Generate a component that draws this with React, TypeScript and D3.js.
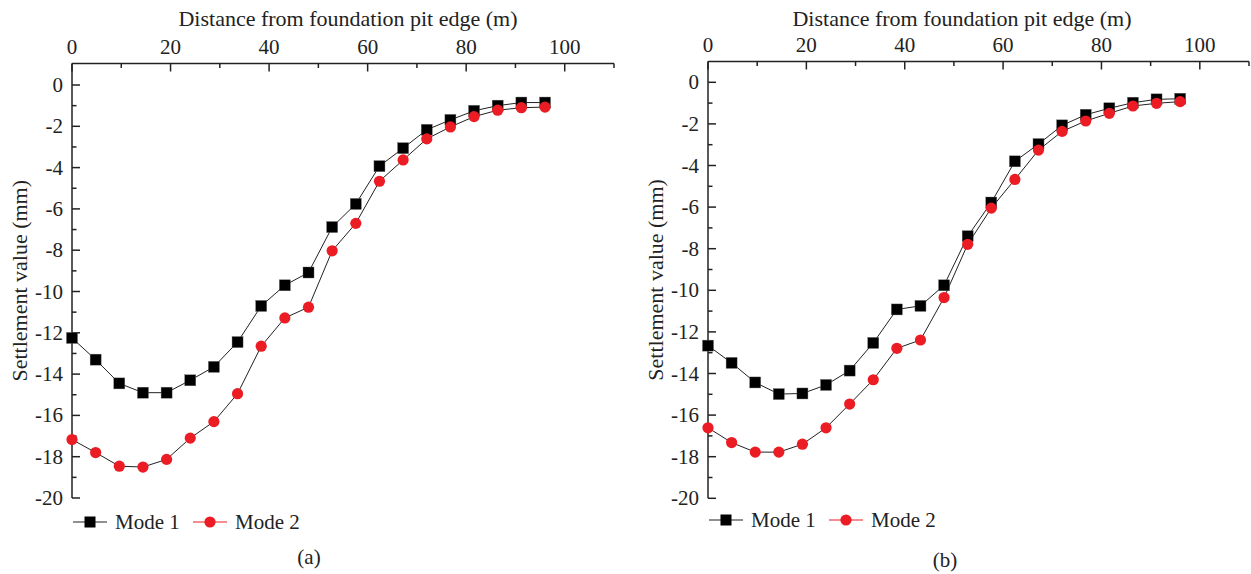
import * as d3 from "d3";
import React from "react";

// distance from pit edge (m), same for both panels
const distance = [0, 4.8, 9.6, 14.4, 19.2, 24, 28.8, 33.6, 38.4, 43.2, 48, 52.8, 57.6, 62.4, 67.2, 72, 76.8, 81.6, 86.4, 91.2, 96];

// panel (a)
const modeA1 = [-12.25, -13.3, -14.45, -14.9, -14.9, -14.3, -13.65, -12.45, -10.7, -9.7, -9.08, -6.88, -5.76, -3.93, -3.06, -2.17, -1.69, -1.25, -1.0, -0.85, -0.85];
const modeA2 = [-17.17, -17.8, -18.46, -18.5, -18.13, -17.1, -16.3, -14.95, -12.65, -11.28, -10.76, -8.03, -6.7, -4.66, -3.63, -2.61, -2.03, -1.53, -1.22, -1.1, -1.07];

// panel (b)
const modeB1 = [-12.66, -13.49, -14.43, -14.99, -14.96, -14.55, -13.86, -12.53, -10.92, -10.75, -9.76, -7.4, -5.78, -3.8, -2.97, -2.07, -1.56, -1.25, -0.98, -0.82, -0.79];
const modeB2 = [-16.61, -17.32, -17.78, -17.78, -17.4, -16.61, -15.47, -14.3, -12.79, -12.39, -10.35, -7.79, -6.05, -4.67, -3.26, -2.36, -1.86, -1.49, -1.14, -1.01, -0.93];

const xMajor = [0, 20, 40, 60, 80, 100];
const xMinor = [10, 30, 50, 70, 90, 110];
const yMajor = [0, -2, -4, -6, -8, -10, -12, -14, -16, -18, -20];
const yMinor = [-1, -3, -5, -7, -9, -11, -13, -15, -17, -19];

const seriesNames = ["Mode 1", "Mode 2"];
const xTitle = "Distance from foundation pit edge (m)";
const yTitle = "Settlement value (mm)";

const RED = "#ec1c24";
const FONT = "'Liberation Serif', 'Times New Roman', 'DejaVu Serif', serif";

type PanelProps = {
  left: number;
  right: number;
  top: number;
  zeroY: number;
  bottom: number;
  m1: number[];
  m2: number[];
  titleX: number;
  caption: string;
  captionX: number;
  captionY: number;
  legendY: number;
};

function Panel(p: PanelProps) {
  const x = d3.scaleLinear().domain([0, 110]).range([p.left, p.right]);
  const y = d3.scaleLinear().domain([0, -20]).range([p.zeroY, p.bottom]);
  const line = d3
    .line<number>()
    .x((_, i) => x(distance[i]))
    .y((d) => y(d));

  const sq = 11;
  const r = 5.6;
  const leg0 = p.left + 1;

  return (
    <g style={{ fontFamily: FONT, fontSize: 21 }} fill="#222">
      {/* top x axis */}
      <text x={p.titleX} y={18} textAnchor="middle" dominantBaseline="central" style={{ fontSize: 22 }}>
        {xTitle}
      </text>
      <line x1={p.left} x2={p.right} y1={p.top} y2={p.top} stroke="#222" strokeWidth={1.5} />
      {xMajor.map((v) => (
        <g key={"xm" + v}>
          <line x1={x(v)} x2={x(v)} y1={p.top} y2={p.top + 8} stroke="#222" strokeWidth={1.5} />
          <text x={x(v)} y={p.top - 17} textAnchor="middle" dominantBaseline="central">
            {v}
          </text>
        </g>
      ))}
      {xMinor.map((v) => (
        <line key={"xn" + v} x1={x(v)} x2={x(v)} y1={p.top} y2={p.top + 4.5} stroke="#222" strokeWidth={1.5} />
      ))}

      {/* left y axis */}
      <line x1={p.left} x2={p.left} y1={p.top} y2={p.bottom} stroke="#222" strokeWidth={1.5} />
      {yMajor.map((v) => (
        <g key={"ym" + v}>
          <line x1={p.left} x2={p.left + 8} y1={y(v)} y2={y(v)} stroke="#222" strokeWidth={1.5} />
          <text x={p.left - 9} y={y(v)} textAnchor="end" dominantBaseline="central">
            {v}
          </text>
        </g>
      ))}
      {yMinor.map((v) => (
        <line key={"yn" + v} x1={p.left} x2={p.left + 4.5} y1={y(v)} y2={y(v)} stroke="#222" strokeWidth={1.5} />
      ))}
      <text
        transform={`translate(${p.left - 53},${(p.top + p.bottom) / 2}) rotate(-90)`}
        textAnchor="middle"
        dominantBaseline="central"
        style={{ fontSize: 22 }}
      >
        {yTitle}
      </text>

      {/* series */}
      <path d={line(p.m1) || ""} fill="none" stroke="#222" strokeWidth={1} />
      <path d={line(p.m2) || ""} fill="none" stroke="#222" strokeWidth={1} />
      {p.m1.map((v, i) => (
        <rect key={"s" + i} x={x(distance[i]) - sq / 2} y={y(v) - sq / 2} width={sq} height={sq} fill="#000" stroke="#666" strokeWidth={0.4} />
      ))}
      {p.m2.map((v, i) => (
        <circle key={"c" + i} cx={x(distance[i])} cy={y(v)} r={r} fill={RED} />
      ))}

      {/* legend */}
      <line x1={leg0} x2={leg0 + 34} y1={p.legendY} y2={p.legendY} stroke="#222" strokeWidth={1.2} />
      <rect x={leg0 + 17 - sq / 2} y={p.legendY - sq / 2} width={sq} height={sq} fill="#000" />
      <text x={leg0 + 42} y={p.legendY} dominantBaseline="central">
        {seriesNames[0]}
      </text>
      <line x1={leg0 + 120} x2={leg0 + 154} y1={p.legendY} y2={p.legendY} stroke={RED} strokeWidth={1.2} />
      <circle cx={leg0 + 137} cy={p.legendY} r={r} fill={RED} />
      <text x={leg0 + 162} y={p.legendY} dominantBaseline="central">
        {seriesNames[1]}
      </text>

      <text x={p.captionX} y={p.captionY} textAnchor="middle" dominantBaseline="central">
        {p.caption}
      </text>
    </g>
  );
}

export default function App() {
  return (
    <svg width={1251} height={574} style={{ display: "block", position: "absolute", left: 0, top: 0, background: "#fff" }}>
      <Panel left={72} right={614} top={63.5} zeroY={85} bottom={498} m1={modeA1} m2={modeA2} titleX={348} caption="(a)" captionX={309} captionY={557} legendY={522} />
      <Panel left={708} right={1249} top={61.5} zeroY={82.3} bottom={498.3} m1={modeB1} m2={modeB2} titleX={962} caption="(b)" captionX={945} captionY={560} legendY={520} />
    </svg>
  );
}
